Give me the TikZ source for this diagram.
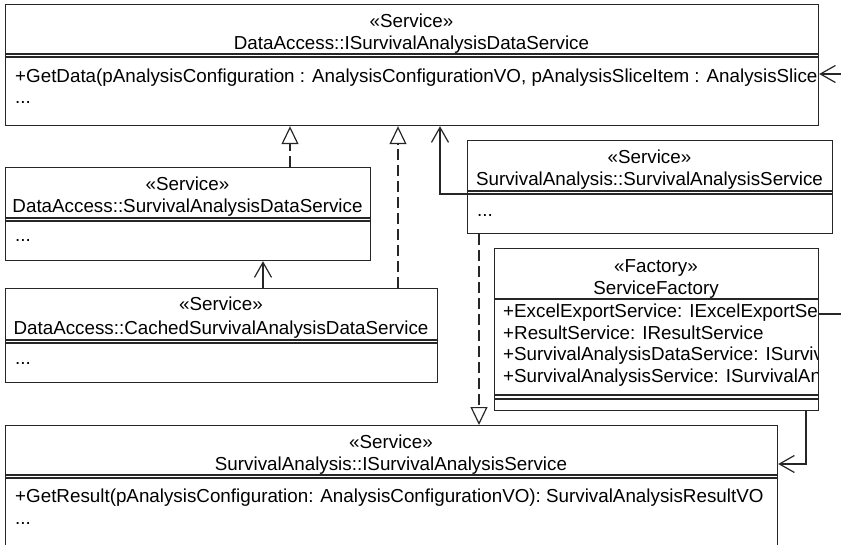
\documentclass[tikz,border=0pt]{standalone}
\usepackage{fontspec}
\setmainfont{Liberation Sans}
\usetikzlibrary{arrows.meta}
\tikzset{
  umlbox/.style={draw=black!85, line width=1.2pt, anchor=north west, inner sep=0pt},
  umltext/.style={inner sep=0pt, font=\fontsize{18.8}{22}\selectfont},
  sepline/.style={draw=black!85, line width=1.2pt},
  realize/.style={draw=black!85, line width=1.2pt, dash pattern=on 11pt off 5pt,
    -{Triangle[open, length=18pt, width=17pt, fill=white]}},
  assoc/.style={draw=black!85, line width=1.2pt, -{Straight Barb[length=15pt, width=17pt]}},
}
\begin{document}
\begin{tikzpicture}[x=1pt, y=-1pt]
  \useasboundingbox (0,0) rectangle (841,545);

  % DataAccess::ISurvivalAnalysisDataService
  \node[umlbox, minimum width=813pt, minimum height=121pt] (iDataSvc) at (5,4) {};
  \node[umltext, anchor=base] (iDataSvcSt) at (411.5,28) {«Service»};
  \node[umltext, anchor=base] (iDataSvcNm) at (411.5,50) {DataAccess::ISurvivalAnalysisDataService};
  \draw[sepline] (5,54) -- (818,54);
  \draw[sepline] (5,57) -- (818,57);
  \begin{scope}
    \clip (5,4) rectangle (817.4,125);
    \node[umltext, anchor=base west] (iDataSvcA1) at (15,83) {+GetData(pAnalysisConfiguration : AnalysisConfigurationVO, pAnalysisSliceItem : AnalysisSliceItemVO)};
    \node[umltext, anchor=base west] (iDataSvcA2) at (15,104) {...};
  \end{scope}

  % DataAccess::SurvivalAnalysisDataService
  \node[umlbox, minimum width=365pt, minimum height=93pt] (dataSvc) at (5,167) {};
  \node[umltext, anchor=base] (dataSvcSt) at (187.5,191) {«Service»};
  \node[umltext, anchor=base] (dataSvcNm) at (187.5,213) {DataAccess::SurvivalAnalysisDataService};
  \draw[sepline] (5,218) -- (370,218);
  \draw[sepline] (5,221) -- (370,221);
  \node[umltext, anchor=base west] (dataSvcA1) at (15,242) {...};

  % DataAccess::CachedSurvivalAnalysisDataService
  \node[umlbox, minimum width=432pt, minimum height=94pt] (cachedSvc) at (5,288) {};
  \node[umltext, anchor=base] (cachedSvcSt) at (221,311) {«Service»};
  \node[umltext, anchor=base] (cachedSvcNm) at (221,335) {DataAccess::CachedSurvivalAnalysisDataService};
  \draw[sepline] (5,340) -- (437,340);
  \draw[sepline] (5,343) -- (437,343);
  \node[umltext, anchor=base west] (cachedSvcA1) at (15,364) {...};

  % SurvivalAnalysis::SurvivalAnalysisService
  \node[umlbox, minimum width=365pt, minimum height=93pt] (analysisSvc) at (467,140) {};
  \node[umltext, anchor=base] (analysisSvcSt) at (649.5,164) {«Service»};
  \node[umltext, anchor=base] (analysisSvcNm) at (649.5,186) {SurvivalAnalysis::SurvivalAnalysisService};
  \draw[sepline] (467,191) -- (832,191);
  \draw[sepline] (467,194) -- (832,194);
  \node[umltext, anchor=base west] (analysisSvcA1) at (477,217) {...};

  % ServiceFactory
  \node[umlbox, minimum width=324pt, minimum height=162pt] (factory) at (494,248) {};
  \node[umltext, anchor=base] (factorySt) at (656,273) {«Factory»};
  \node[umltext, anchor=base] (factoryNm) at (656,295) {ServiceFactory};
  \draw[sepline] (494,299) -- (818,299);
  \draw[sepline] (494,395) -- (818,395);
  \draw[sepline] (494,399) -- (818,399);
  \begin{scope}
    \clip (494,299) rectangle (817.4,395);
    \node[umltext, anchor=base west] (factoryA1) at (503,318) {+ExcelExportService: IExcelExportService};
    \node[umltext, anchor=base west] (factoryA2) at (503,340) {+ResultService: IResultService};
    \node[umltext, anchor=base west] (factoryA3) at (503,361) {+SurvivalAnalysisDataService: ISurvivalAnalysisDataService};
    \node[umltext, anchor=base west] (factoryA4) at (503,383) {+SurvivalAnalysisService: ISurvivalAnalysisService};
  \end{scope}

  % SurvivalAnalysis::ISurvivalAnalysisService
  \node[umlbox, minimum width=772pt, minimum height=140pt] (iAnalysisSvc) at (5,425) {};
  \node[umltext, anchor=base] (iAnalysisSvcSt) at (391,448) {«Service»};
  \node[umltext, anchor=base] (iAnalysisSvcNm) at (391,470) {SurvivalAnalysis::ISurvivalAnalysisService};
  \draw[sepline] (5,475) -- (777,475);
  \draw[sepline] (5,478) -- (777,478);
  \node[umltext, anchor=base west] (iAnalysisSvcA1) at (15,502) {+GetResult(pAnalysisConfiguration: AnalysisConfigurationVO): SurvivalAnalysisResultVO};
  \node[umltext, anchor=base west] (iAnalysisSvcA2) at (15,524) {...};

  % connectors
  \coordinate (inData) at (841,74);
  \coordinate (outExcel) at (841,314);
  \coordinate (R1) at (290,0);
  \coordinate (R2) at (398,0);
  \coordinate (R3) at (479,0);
  \coordinate (A1) at (263,0);
  \coordinate (A2) at (440,194);
  \coordinate (A3) at (806,464);

  \draw[assoc] (inData) -- (iDataSvc.east |- inData);
  \draw[sepline] (factory.east |- outExcel) -- (outExcel);
  \draw[realize] (dataSvc.north -| R1) -- (iDataSvc.south -| R1);
  \draw[realize] (cachedSvc.north -| R2) -- (iDataSvc.south -| R2);
  \draw[assoc] (cachedSvc.north -| A1) -- (dataSvc.south -| A1);
  \draw[assoc] (analysisSvc.west |- A2) -- (A2) -- (iDataSvc.south -| A2);
  \draw[realize] (analysisSvc.south -| R3) -- (iAnalysisSvc.north -| R3);
  \draw[assoc] (factory.south -| A3) -- (A3) -- (iAnalysisSvc.east |- A3);
\end{tikzpicture}
\end{document}
